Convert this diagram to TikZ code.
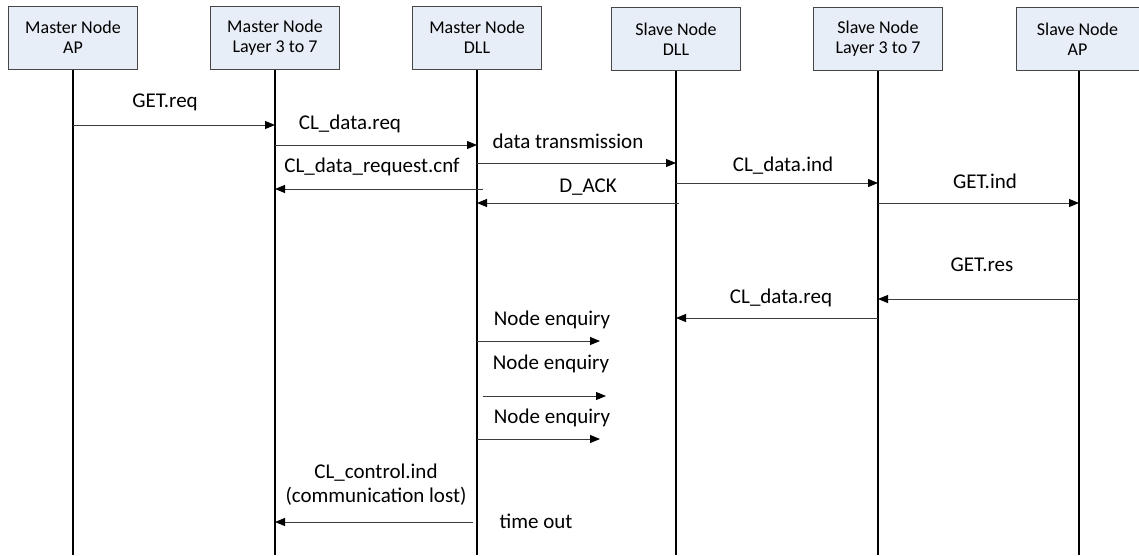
\documentclass[tikz,border=0pt]{standalone}
\usepackage{fontspec}
\setmainfont{Carlito}
\usetikzlibrary{arrows.meta}
\definecolor{boxfill}{RGB}{232,238,247}
\definecolor{boxline}{RGB}{70,70,70}
\definecolor{msgline}{RGB}{60,60,60}
\begin{document}
\begin{tikzpicture}[x=1pt,y=-1pt,
  lifebox/.style={draw=boxline, fill=boxfill, line width=1pt, minimum width=129pt, minimum height=63pt,
    align=center, font=\fontsize{18}{20}\selectfont, inner sep=0pt},
  lifeline/.style={line width=1.4pt, draw=black},
  msg/.style={line width=1pt, draw=msgline, -{Triangle[length=10pt,width=8pt,color=black]}},
  lbl/.style={font=\fontsize{21}{24}\selectfont, inner sep=0pt, align=center, text height=0.7em, text depth=0.2em, yshift=-4pt}]
\useasboundingbox (0,0) rectangle (1139,555);
% boxes
\node[lifebox] (mAP) at (73,37.5) {Master Node\\AP};
\node[lifebox] (mL) at (275,37.5) {Master Node\\Layer 3 to 7};
\node[lifebox] (mD) at (477,37.5) {Master Node\\DLL};
\node[lifebox] (sD) at (676,39) {Slave Node\\DLL};
\node[lifebox] (sL) at (878,39) {Slave Node\\Layer 3 to 7};
\node[lifebox, minimum width=123pt] (sAP) at (1077.5,39) {Slave Node\\AP};
% lifeline ends
\coordinate (mAPe) at (73,555);
\coordinate (mLe) at (275,555);
\coordinate (mDe) at (477,555);
\coordinate (sDe) at (676,555);
\coordinate (sLe) at (878,555);
\coordinate (sAPe) at (1079,555);
\draw[lifeline] (mAP.south) -- (mAPe);
\draw[lifeline] (mL.south) -- (mLe);
\draw[lifeline] (mD.south) -- (mDe);
\draw[lifeline] (sD.south) -- (sDe);
\draw[lifeline] (sL.south) -- (sLe);
\draw[lifeline] (sAP.south -| sAPe) -- (sAPe);
% messages
\coordinate (a1) at (73,125);  \coordinate (b1) at (275,125);
\draw[msg] (a1) -- (b1);
\node[lbl] (t1) at (165,101) {GET.req};
\coordinate (a2) at (275,145); \coordinate (b2) at (477,145);
\draw[msg] (a2) -- (b2);
\node[lbl] (t2) at (350,123) {CL\_data.req};
\coordinate (a3) at (477,163); \coordinate (b3) at (676,163);
\draw[msg] (a3) -- (b3);
\node[lbl] (t3) at (568,142) {data transmission};
\coordinate (a4) at (483,189); \coordinate (b4) at (275,189);
\draw[msg] (a4) -- (b4);
\node[lbl] (t4) at (372,166) {CL\_data\_request.cnf};
\coordinate (a5) at (676,183); \coordinate (b5) at (878,183);
\draw[msg] (a5) -- (b5);
\node[lbl] (t5) at (783,165) {CL\_data.ind};
\coordinate (a6) at (679,203); \coordinate (b6) at (477,203);
\draw[msg] (a6) -- (b6);
\node[lbl] (t6) at (588,186) {D\_ACK};
\coordinate (a7) at (878,203); \coordinate (b7) at (1079,203);
\draw[msg] (a7) -- (b7);
\node[lbl] (t7) at (985,182) {GET.ind};
\coordinate (a8) at (1079,299); \coordinate (b8) at (878,299);
\draw[msg] (a8) -- (b8);
\node[lbl] (t8) at (982,265) {GET.res};
\coordinate (a9) at (878,318); \coordinate (b9) at (676,318);
\draw[msg] (a9) -- (b9);
\node[lbl] (t9) at (781,297) {CL\_data.req};
\coordinate (a10) at (477,341); \coordinate (b10) at (600,341);
\draw[msg] (a10) -- (b10);
\node[lbl] (t10) at (552,319) {Node enquiry};
\coordinate (a11) at (483,396); \coordinate (b11) at (606,396);
\draw[msg] (a11) -- (b11);
\node[lbl] (t11) at (551,363) {Node enquiry};
\coordinate (a12) at (477,439); \coordinate (b12) at (600,439);
\draw[msg] (a12) -- (b12);
\node[lbl] (t12) at (552,417) {Node enquiry};
\coordinate (a13) at (473,522); \coordinate (b13) at (275,522);
\draw[msg] (a13) -- (b13);
\node[lbl, text height=, text depth=] (t13) at (376,481) {CL\_control.ind\\(communication lost)};
\node[lbl] (t14) at (536,522) {time out};
\end{tikzpicture}
\end{document}
